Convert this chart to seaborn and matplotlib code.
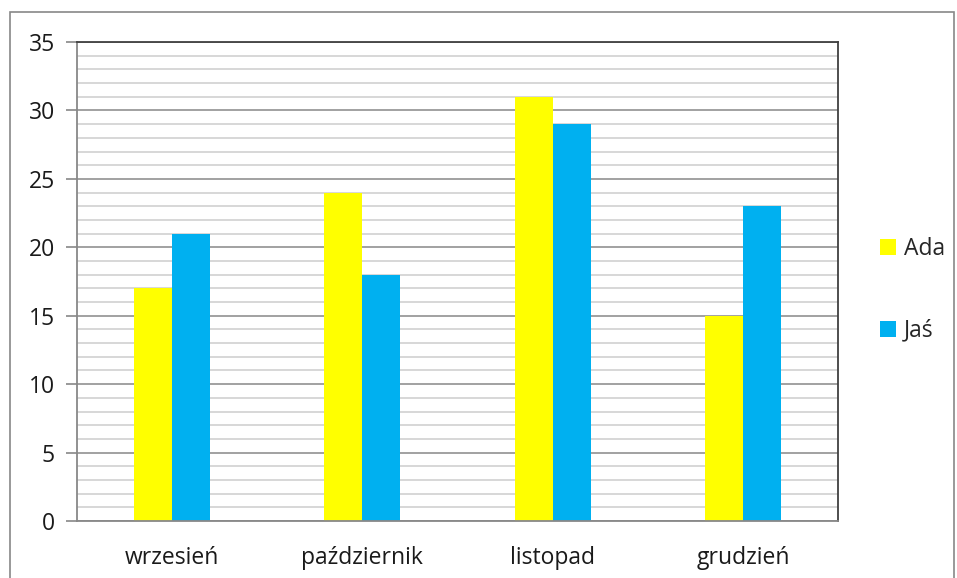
import pandas as pd
import matplotlib
matplotlib.use("Agg")
import matplotlib.pyplot as plt
import seaborn as sns
from matplotlib.patches import Rectangle

months = ["wrzesień", "październik", "listopad", "grudzień"]
ada = [17, 24, 31, 15]
jas = [21, 18, 29, 23]
series = ["Ada", "Jaś"]
colors = ["#FFFF00", "#00B0F0"]

df = pd.DataFrame({
    "month": months * 2,
    "value": ada + jas,
    "who": ["Ada"] * len(months) + ["Jaś"] * len(months),
})

sns.set_style("white")
plt.rcParams["font.family"] = ["Open Sans", "DejaVu Sans"]

fig = plt.figure(figsize=(9.57, 5.78), dpi=100)
ax = fig.add_axes([0.0805, 0.0986, 0.7952, 0.8287])

sns.barplot(data=df, x="month", y="value", hue="who", hue_order=series,
            palette=colors, width=0.4, saturation=1, ax=ax, linewidth=0)

ax.set_xlim(-0.5, 3.5)
ax.set_ylim(0, 35)
ax.set_yticks(range(0, 36, 5))
ax.set_yticks(range(0, 36, 1), minor=True)
ax.grid(which="minor", axis="y", color="#d4d4d4", linewidth=1.3)
ax.grid(which="major", axis="y", color="#9a9a9a", linewidth=1.3)
ax.set_axisbelow(True)

ax.tick_params(axis="y", which="major", length=8, width=1.2, color="#888888",
               labelsize=16.5, pad=8, labelcolor="#1a1a1a", left=True)
ax.tick_params(axis="y", which="minor", length=0)
ax.tick_params(axis="x", length=0, labelsize=16.5, pad=18, labelcolor="#1a1a1a")
ax.set_xlabel("")
ax.set_ylabel("")

for side in ["left", "bottom"]:
    ax.spines[side].set_color("#888888")
    ax.spines[side].set_linewidth(1.3)
for side in ["top", "right"]:
    ax.spines[side].set_color("#404040")
    ax.spines[side].set_linewidth(1.3)

ax.legend(loc="center left", bbox_to_anchor=(1.055, 0.482), frameon=False,
          fontsize=16.5, handlelength=0.7, handleheight=0.7,
          handletextpad=0.35, labelspacing=2.5, borderaxespad=0,
          borderpad=0)

fig.patches.append(Rectangle((10 / 957, -0.05), 944 / 957, 1.05 - 12 / 578,
                             transform=fig.transFigure, fill=False,
                             edgecolor="#888888", linewidth=1.2))

fig.savefig("out.png", dpi=100)
